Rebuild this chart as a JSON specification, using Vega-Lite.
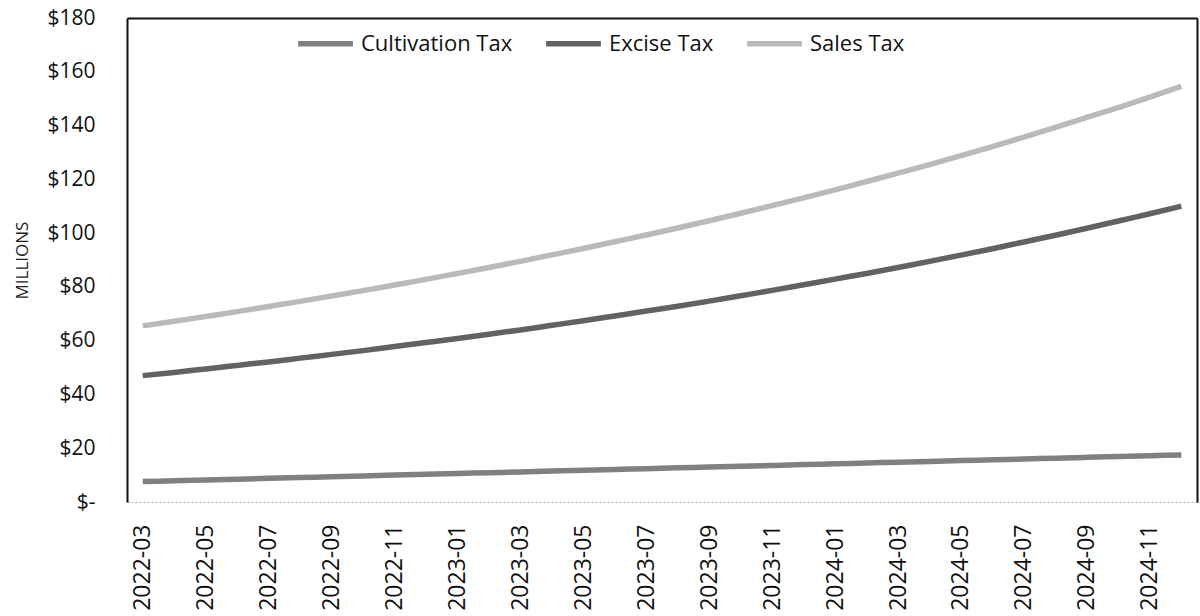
{
  "$schema": "https://vega.github.io/schema/vega-lite/v6.json",
  "width": 1070,
  "height": 484,
  "autosize": "none",
  "padding": {"left": 127, "top": 18, "right": 3, "bottom": 114},
  "background": "white",
  "config": {
    "view": {"stroke": null},
    "font": "Open Sans"
  },
  "data": {"values": [
    {"month":"2022-03","series":"Cultivation Tax","value":7.6},{"month":"2022-03","series":"Excise Tax","value":47.0},{"month":"2022-03","series":"Sales Tax","value":65.5},
    {"month":"2022-04","series":"Cultivation Tax","value":7.9},{"month":"2022-04","series":"Excise Tax","value":48.2},{"month":"2022-04","series":"Sales Tax","value":67.2},
    {"month":"2022-05","series":"Cultivation Tax","value":8.2},{"month":"2022-05","series":"Excise Tax","value":49.5},{"month":"2022-05","series":"Sales Tax","value":69.0},
    {"month":"2022-06","series":"Cultivation Tax","value":8.5},{"month":"2022-06","series":"Excise Tax","value":50.8},{"month":"2022-06","series":"Sales Tax","value":70.8},
    {"month":"2022-07","series":"Cultivation Tax","value":8.8},{"month":"2022-07","series":"Excise Tax","value":52.1},{"month":"2022-07","series":"Sales Tax","value":72.7},
    {"month":"2022-08","series":"Cultivation Tax","value":9.1},{"month":"2022-08","series":"Excise Tax","value":53.5},{"month":"2022-08","series":"Sales Tax","value":74.6},
    {"month":"2022-09","series":"Cultivation Tax","value":9.4},{"month":"2022-09","series":"Excise Tax","value":54.9},{"month":"2022-09","series":"Sales Tax","value":76.6},
    {"month":"2022-10","series":"Cultivation Tax","value":9.7},{"month":"2022-10","series":"Excise Tax","value":56.3},{"month":"2022-10","series":"Sales Tax","value":78.6},
    {"month":"2022-11","series":"Cultivation Tax","value":10.0},{"month":"2022-11","series":"Excise Tax","value":57.8},{"month":"2022-11","series":"Sales Tax","value":80.7},
    {"month":"2022-12","series":"Cultivation Tax","value":10.3},{"month":"2022-12","series":"Excise Tax","value":59.3},{"month":"2022-12","series":"Sales Tax","value":82.8},
    {"month":"2023-01","series":"Cultivation Tax","value":10.6},{"month":"2023-01","series":"Excise Tax","value":60.8},{"month":"2023-01","series":"Sales Tax","value":85.0},
    {"month":"2023-02","series":"Cultivation Tax","value":10.9},{"month":"2023-02","series":"Excise Tax","value":62.4},{"month":"2023-02","series":"Sales Tax","value":87.2},
    {"month":"2023-03","series":"Cultivation Tax","value":11.2},{"month":"2023-03","series":"Excise Tax","value":64.0},{"month":"2023-03","series":"Sales Tax","value":89.5},
    {"month":"2023-04","series":"Cultivation Tax","value":11.5},{"month":"2023-04","series":"Excise Tax","value":65.7},{"month":"2023-04","series":"Sales Tax","value":91.9},
    {"month":"2023-05","series":"Cultivation Tax","value":11.8},{"month":"2023-05","series":"Excise Tax","value":67.4},{"month":"2023-05","series":"Sales Tax","value":94.3},
    {"month":"2023-06","series":"Cultivation Tax","value":12.1},{"month":"2023-06","series":"Excise Tax","value":69.2},{"month":"2023-06","series":"Sales Tax","value":96.8},
    {"month":"2023-07","series":"Cultivation Tax","value":12.4},{"month":"2023-07","series":"Excise Tax","value":71.0},{"month":"2023-07","series":"Sales Tax","value":99.3},
    {"month":"2023-08","series":"Cultivation Tax","value":12.7},{"month":"2023-08","series":"Excise Tax","value":72.8},{"month":"2023-08","series":"Sales Tax","value":101.9},
    {"month":"2023-09","series":"Cultivation Tax","value":13.0},{"month":"2023-09","series":"Excise Tax","value":74.7},{"month":"2023-09","series":"Sales Tax","value":104.6},
    {"month":"2023-10","series":"Cultivation Tax","value":13.3},{"month":"2023-10","series":"Excise Tax","value":76.7},{"month":"2023-10","series":"Sales Tax","value":107.4},
    {"month":"2023-11","series":"Cultivation Tax","value":13.6},{"month":"2023-11","series":"Excise Tax","value":78.7},{"month":"2023-11","series":"Sales Tax","value":110.2},
    {"month":"2023-12","series":"Cultivation Tax","value":13.9},{"month":"2023-12","series":"Excise Tax","value":80.8},{"month":"2023-12","series":"Sales Tax","value":113.1},
    {"month":"2024-01","series":"Cultivation Tax","value":14.2},{"month":"2024-01","series":"Excise Tax","value":82.9},{"month":"2024-01","series":"Sales Tax","value":116.1},
    {"month":"2024-02","series":"Cultivation Tax","value":14.5},{"month":"2024-02","series":"Excise Tax","value":85.0},{"month":"2024-02","series":"Sales Tax","value":119.2},
    {"month":"2024-03","series":"Cultivation Tax","value":14.8},{"month":"2024-03","series":"Excise Tax","value":87.2},{"month":"2024-03","series":"Sales Tax","value":122.3},
    {"month":"2024-04","series":"Cultivation Tax","value":15.1},{"month":"2024-04","series":"Excise Tax","value":89.5},{"month":"2024-04","series":"Sales Tax","value":125.5},
    {"month":"2024-05","series":"Cultivation Tax","value":15.4},{"month":"2024-05","series":"Excise Tax","value":91.8},{"month":"2024-05","series":"Sales Tax","value":128.8},
    {"month":"2024-06","series":"Cultivation Tax","value":15.7},{"month":"2024-06","series":"Excise Tax","value":94.2},{"month":"2024-06","series":"Sales Tax","value":132.2},
    {"month":"2024-07","series":"Cultivation Tax","value":16.0},{"month":"2024-07","series":"Excise Tax","value":96.7},{"month":"2024-07","series":"Sales Tax","value":135.7},
    {"month":"2024-08","series":"Cultivation Tax","value":16.3},{"month":"2024-08","series":"Excise Tax","value":99.2},{"month":"2024-08","series":"Sales Tax","value":139.3},
    {"month":"2024-09","series":"Cultivation Tax","value":16.6},{"month":"2024-09","series":"Excise Tax","value":101.8},{"month":"2024-09","series":"Sales Tax","value":143.0},
    {"month":"2024-10","series":"Cultivation Tax","value":16.9},{"month":"2024-10","series":"Excise Tax","value":104.5},{"month":"2024-10","series":"Sales Tax","value":146.7},
    {"month":"2024-11","series":"Cultivation Tax","value":17.2},{"month":"2024-11","series":"Excise Tax","value":107.2},{"month":"2024-11","series":"Sales Tax","value":150.6},
    {"month":"2024-12","series":"Cultivation Tax","value":17.5},{"month":"2024-12","series":"Excise Tax","value":110.0},{"month":"2024-12","series":"Sales Tax","value":154.6}
  ]},
  "layer": [
    {
      "mark": {"type": "line", "strokeCap": "butt", "interpolate": "monotone"},
      "encoding": {
        "x": {
          "field": "month", "type": "ordinal", "sort": "ascending",
          "scale": {"type": "point", "padding": 0.5},
          "axis": {
            "title": null,
            "values": ["2022-03","2022-05","2022-07","2022-09","2022-11","2023-01","2023-03","2023-05","2023-07","2023-09","2023-11","2024-01","2024-03","2024-05","2024-07","2024-09","2024-11"],
            "labelAngle": -90, "labelAlign": "right", "labelBaseline": "middle",
            "labelFont": "Open Sans", "labelFontSize": 23, "labelColor": "#111",
            "labelPadding": 22, "ticks": false,
            "domainColor": "#aaaaaa", "domainWidth": 1.2, "domainDash": [2, 2],
            "grid": false
          }
        },
        "y": {
          "field": "value", "type": "quantitative",
          "scale": {"domain": [0, 180], "nice": false},
          "axis": {
            "title": "MILLIONS", "titleFont": "Open Sans", "titleFontSize": 17,
            "titleFontWeight": "normal", "titleColor": "#222",
            "titleX": -105, "titleBaseline": "middle",
            "values": [0, 20, 40, 60, 80, 100, 120, 140, 160, 180],
            "labelExpr": "datum.value == 0 ? '$-' : '$' + datum.value",
            "labelFont": "Open Sans", "labelFontSize": 21, "labelColor": "#111",
            "labelPadding": 32, "ticks": false, "grid": false,
            "domainColor": "#111", "domainWidth": 2
          }
        },
        "color": {
          "field": "series", "type": "nominal",
          "scale": {"domain": ["Cultivation Tax", "Excise Tax", "Sales Tax"], "range": ["#808080", "#626262", "#bababa"]},
          "legend": {
            "title": null, "orient": "none", "legendX": 168, "legendY": -5,
            "direction": "horizontal",
            "symbolType": "M-1,0L1,0", "symbolSize": 3000,
            "symbolStrokeWidth": 5, "labelFont": "Open Sans", "labelFontSize": 22,
            "labelColor": "#111", "labelOffset": 5, "columnPadding": 22
          }
        },
        "strokeWidth": {
          "field": "series", "type": "nominal",
          "scale": {"domain": ["Cultivation Tax", "Excise Tax", "Sales Tax"], "range": [5.5, 5.5, 2.8]},
          "legend": null
        }
      }
    },
    {
      "mark": {"type": "line", "strokeOpacity": 0},
      "encoding": {
        "x": {
          "field": "month", "type": "ordinal", "sort": "ascending",
          "axis": {"orient": "top", "title": null, "labels": false, "ticks": false, "grid": false, "domainColor": "#111", "domainWidth": 2}
        },
        "y": {
          "field": "value", "type": "quantitative",
          "axis": {"orient": "right", "title": null, "labels": false, "ticks": false, "grid": false, "domainColor": "#111", "domainWidth": 2}
        }
      }
    }
  ],
  "resolve": {"axis": {"x": "independent", "y": "independent"}}
}
